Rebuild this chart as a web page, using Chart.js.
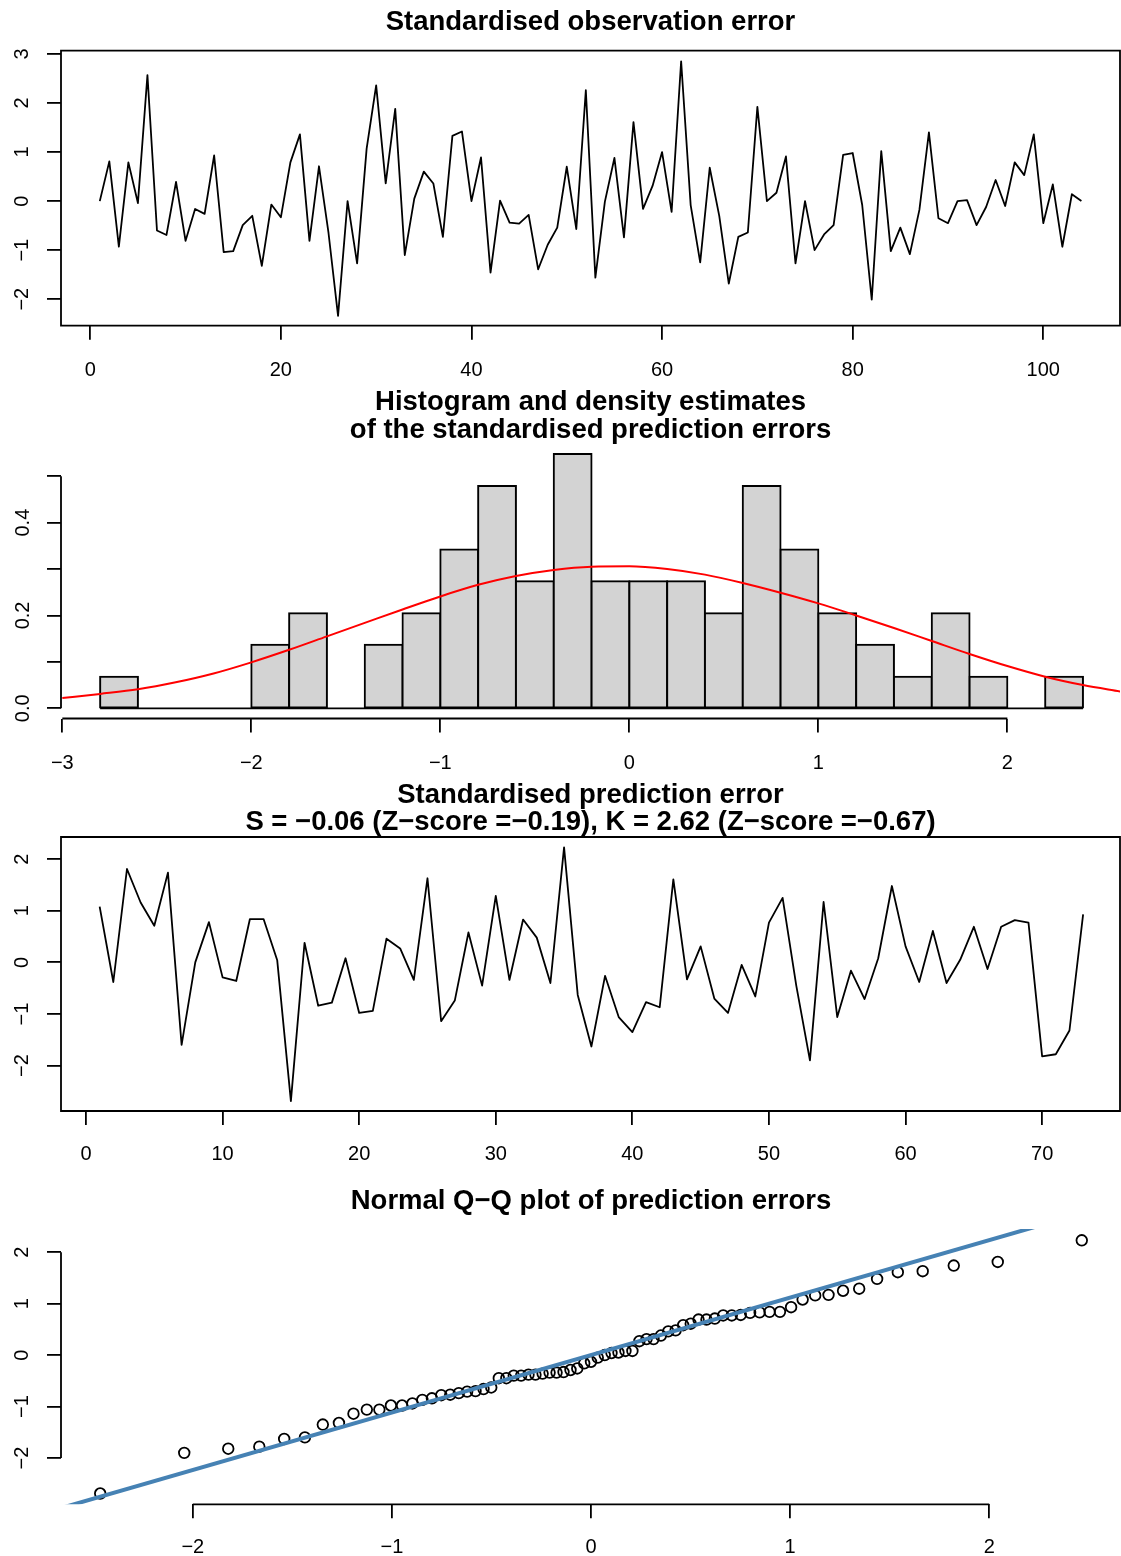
<!DOCTYPE html>
<html lang="en">
<head>
<meta charset="utf-8">
<title>Standardised errors</title>
<script src="https://cdn.jsdelivr.net/npm/chart.js@4.4.0/dist/chart.umd.min.js"></script>
<style>
    html, body { margin: 0; padding: 0; background: #fff; }
    #page { position: relative; width: 1121px; height: 1556px; overflow: hidden; }
    #page canvas { position: absolute; left: 0; }
</style>
</head>
<body>
<div id="page">
    <canvas id="obsChart" width="1121" height="390" style="top:0px"></canvas>
    <canvas id="histChart" width="1121" height="394" style="top:388px"></canvas>
    <canvas id="predChart" width="1121" height="395" style="top:780px"></canvas>
    <canvas id="qqChart" width="1121" height="381" style="top:1175px"></canvas>
</div>
<script>
// --- Data ---

// 1. Standardised observation error (t = 1..104)
const obsErr = [
    0.00, 0.81, -0.93, 0.79, -0.04, 2.57, -0.60, -0.69, 0.39, -0.81,
    -0.16, -0.26, 0.93, -1.04, -1.02, -0.49, -0.30, -1.32, -0.07, -0.33,
    0.79, 1.36, -0.81, 0.71, -0.65, -2.34, 0.00, -1.27, 1.07, 2.36,
    0.36, 1.88, -1.10, 0.05, 0.60, 0.36, -0.73, 1.33, 1.42, 0.00,
    0.89, -1.46, 0.01, -0.44, -0.46, -0.28, -1.39, -0.89, -0.54, 0.70,
    -0.57, 2.26, -1.56, -0.01, 0.88, -0.74, 1.61, -0.16, 0.31, 1.00,
    -0.22, 2.85, -0.08, -1.25, 0.68, -0.30, -1.68, -0.73, -0.64, 1.92,
    0.00, 0.17, 0.91, -1.27, 0.00, -1.00, -0.68, -0.49, 0.94, 0.98,
    -0.08, -2.01, 1.02, -1.02, -0.54, -1.08, -0.18, 1.40, -0.35, -0.45,
    0.00, 0.02, -0.49, -0.12, 0.43, -0.10, 0.79, 0.53, 1.36, -0.45,
    0.34, -0.93, 0.14, 0.00
];

// 2. Histogram of the prediction errors (density scale) + density curve
const histBreaks = [-2.8, -2.6, -2.4, -2.2, -2.0, -1.8, -1.6, -1.4, -1.2, -1.0, -0.8, -0.6, -0.4, -0.2,
    0.0, 0.2, 0.4, 0.6, 0.8, 1.0, 1.2, 1.4, 1.6, 1.8, 2.0, 2.2, 2.4];
const histDensity = [0.068, 0, 0, 0, 0.137, 0.205, 0, 0.137, 0.205, 0.342, 0.479, 0.274, 0.548,
    0.274, 0.274, 0.274, 0.205, 0.479, 0.342, 0.205, 0.137, 0.068, 0.205, 0.068, 0, 0.068];
const densX = [-3.0, -2.8, -2.6, -2.4, -2.2, -2.0, -1.8, -1.6, -1.4, -1.2, -1.0, -0.8, -0.6, -0.4, -0.2,
    0.0, 0.2, 0.4, 0.6, 0.8, 1.0, 1.2, 1.4, 1.6, 1.8, 2.0, 2.2, 2.4, 2.6];
const densY = [0.022, 0.031, 0.041, 0.056, 0.075, 0.099, 0.126, 0.155, 0.184, 0.213, 0.241, 0.266, 0.285, 0.298, 0.305,
    0.306, 0.300, 0.288, 0.270, 0.249, 0.226, 0.200, 0.173, 0.145, 0.117, 0.091, 0.068, 0.050, 0.036];

// 3. Standardised prediction error (t = 1..73)
const predErr = [
    1.08, -0.38, 1.81, 1.16, 0.71, 1.74, -1.60, 0.00, 0.78, -0.29,
    -0.36, 0.84, 0.84, 0.04, -2.69, 0.38, -0.84, -0.78, 0.08, -0.98,
    -0.94, 0.46, 0.27, -0.34, 1.63, -1.14, -0.74, 0.58, -0.45, 1.29,
    -0.34, 0.83, 0.48, -0.40, 2.23, -0.63, -1.63, -0.26, -1.06, -1.35,
    -0.77, -0.87, 1.61, -0.33, 0.31, -0.70, -0.98, -0.05, -0.66, 0.77,
    1.25, -0.45, -1.90, 1.17, -1.06, -0.16, -0.71, 0.08, 1.48, 0.31,
    -0.38, 0.61, -0.40, 0.05, 0.69, -0.13, 0.69, 0.82, 0.77, -1.82,
    -1.78, -1.32, 0.93
];

// 4. Normal Q-Q plot: theoretical quantiles (x positions) and reference line
const qqTheory = [
    -2.465, -2.043, -1.822, -1.666, -1.541, -1.437, -1.347, -1.266, -1.193, -1.126,
    -1.063, -1.005, -0.949, -0.897, -0.847, -0.799, -0.752, -0.707, -0.664, -0.622,
    -0.580, -0.540, -0.501, -0.463, -0.425, -0.388, -0.351, -0.314, -0.279, -0.243,
    -0.208, -0.173, -0.138, -0.103, -0.069, -0.034, 0.000, 0.034, 0.069, 0.103,
    0.138, 0.173, 0.208, 0.243, 0.279, 0.314, 0.351, 0.388, 0.425, 0.463,
    0.501, 0.540, 0.580, 0.622, 0.664, 0.707, 0.752, 0.799, 0.847, 0.897,
    0.949, 1.005, 1.063, 1.126, 1.193, 1.266, 1.347, 1.437, 1.541, 1.666,
    1.822, 2.043, 2.465
];
const qqLineX = [-3, 3];
const qqLineY = [-3.35, 3.35];

// Tick values and labels
const obsXTicks = [0, 20, 40, 60, 80, 100];
const obsXLabels = ['0', '20', '40', '60', '80', '100'];
const obsYTicks = [-2, -1, 0, 1, 2, 3];
const obsYLabels = ['\u22122', '\u22121', '0', '1', '2', '3'];
const histXTicks = [-3, -2, -1, 0, 1, 2];
const histXLabels = ['\u22123', '\u22122', '\u22121', '0', '1', '2'];
const histYTicks = [0, 0.1, 0.2, 0.3, 0.4, 0.5];
const histYLabels = ['0.0', '', '0.2', '', '0.4', ''];
const predXTicks = [0, 10, 20, 30, 40, 50, 60, 70];
const predXLabels = ['0', '10', '20', '30', '40', '50', '60', '70'];
const predYTicks = [-2, -1, 0, 1, 2];
const predYLabels = ['\u22122', '\u22121', '0', '1', '2'];
const qqXTicks = [-2, -1, 0, 1, 2];
const qqXLabels = ['\u22122', '\u22121', '0', '1', '2'];

// --- Chart.js Global Defaults ---
Chart.defaults.font.family = "'Liberation Sans', Arial, Helvetica, sans-serif";
Chart.defaults.font.size = 20;
Chart.defaults.color = '#000';

const LINE_W = 1.8;

// R-like frame: full box, or axis lines running only from first to last tick
const rFrame = {
    id: 'rFrame',
    afterDraw(chart, args, opts) {
        const { ctx, chartArea: a, scales: { x, y } } = chart;
        ctx.save();
        ctx.strokeStyle = '#000';
        ctx.lineWidth = LINE_W;
        ctx.beginPath();
        if (opts.box) {
            ctx.rect(a.left, a.top, a.right - a.left, a.bottom - a.top);
        } else {
            const xt = x.ticks, yt = y.ticks;
            ctx.moveTo(x.getPixelForValue(xt[0].value), a.bottom);
            ctx.lineTo(x.getPixelForValue(xt[xt.length - 1].value), a.bottom);
            ctx.moveTo(a.left, y.getPixelForValue(yt[0].value));
            ctx.lineTo(a.left, y.getPixelForValue(yt[yt.length - 1].value));
        }
        ctx.stroke();
        ctx.restore();
    }
};

function rAxis(cfg) {
    return {
        type: 'linear',
        min: cfg.min,
        max: cfg.max,
        offset: false,
        afterBuildTicks: s => { s.ticks = cfg.ticks.map(v => ({ value: v })); },
        afterFit: s => { if (cfg.isY) s.width = cfg.size; else s.height = cfg.size; },
        border: { display: false },
        grid: {
            drawOnChartArea: false, drawTicks: true, offset: false,
            tickLength: 14, tickWidth: LINE_W, tickColor: '#000',
            color: '#000', lineWidth: LINE_W
        },
        ticks: {
            autoSkip: false,
            padding: cfg.pad,
            minRotation: cfg.isY ? 90 : 0,
            maxRotation: cfg.isY ? 90 : 0,
            crossAlign: cfg.isY ? 'center' : 'near',
            callback: (v, i) => cfg.labels[i]
        }
    };
}

function panelOptions(cfg) {
    return {
        responsive: false,
        animation: false,
        devicePixelRatio: 1,
        layout: { autoPadding: false, padding: { right: cfg.right } },
        plugins: {
            legend: { display: false },
            tooltip: { enabled: false },
            title: {
                display: true,
                fullSize: false,
                text: cfg.title,
                color: '#000',
                font: { size: 27.5, weight: 'bold', lineHeight: 1 },
                padding: { top: cfg.titleTop, bottom: cfg.titleBottom }
            },
            rFrame: { box: cfg.box }
        },
        scales: { x: cfg.x, y: cfg.y }
    };
}

// 1. Standardised observation error
new Chart(document.getElementById('obsChart'), {
    type: 'scatter',
    data: {
        datasets: [{
            data: obsErr.map((v, i) => ({ x: i + 1, y: v })),
            showLine: true, borderColor: '#000', borderWidth: LINE_W,
            borderJoinStyle: 'round', pointRadius: 0, tension: 0
        }]
    },
    options: panelOptions({
        title: 'Standardised observation error',
        titleTop: 8.25, titleBottom: 14.95, right: 1, box: true,
        x: rAxis({ min: -3.07, max: 108.05, ticks: obsXTicks, labels: obsXLabels, size: 64.3, pad: 18.5 }),
        y: rAxis({ min: -2.54, max: 3.066, ticks: obsYTicks, labels: obsYLabels, size: 61, pad: 13, isY: true })
    }),
    plugins: [rFrame]
});

// 2. Histogram and density estimate
const histBars = histDensity.map((d, i) => ({ x: (histBreaks[i] + histBreaks[i + 1]) / 2, y: d }));
new Chart(document.getElementById('histChart'), {
    type: 'bar',
    data: {
        datasets: [
            {
                type: 'line',
                data: densX.map((x, i) => ({ x: x, y: densY[i] })),
                borderColor: '#FF0000', borderWidth: 2, pointRadius: 0,
                cubicInterpolationMode: 'monotone'
            },
            {
                type: 'line',
                data: [{ x: histBreaks[0], y: 0 }, { x: histBreaks[histBreaks.length - 1], y: 0 }],
                borderColor: '#000', borderWidth: LINE_W, pointRadius: 0
            },
            {
                data: histBars,
                backgroundColor: '#D3D3D3', borderColor: '#000', borderWidth: 2,
                borderSkipped: false, inflateAmount: 1,
                barPercentage: 1, categoryPercentage: 1, grouped: false
            }
        ]
    },
    options: panelOptions({
        title: ['Histogram and density estimates', 'of the standardised prediction errors'],
        titleTop: 0.75, titleBottom: 0, right: 1, box: false,
        x: rAxis({ min: -3.007, max: 2.596, ticks: histXTicks, labels: histXLabels, size: 63.5, pad: 18.5 }),
        y: rAxis({ min: -0.022, max: 0.570, ticks: histYTicks, labels: histYLabels, size: 61, pad: 9.6, isY: true })
    }),
    plugins: [rFrame]
});

// 3. Standardised prediction error
new Chart(document.getElementById('predChart'), {
    type: 'scatter',
    data: {
        datasets: [{
            data: predErr.map((v, i) => ({ x: i + 1, y: v })),
            showLine: true, borderColor: '#000', borderWidth: LINE_W,
            borderJoinStyle: 'round', pointRadius: 0, tension: 0
        }]
    },
    options: panelOptions({
        title: ['Standardised prediction error',
            'S = \u22120.06 (Z\u2212score =\u22120.19), K = 2.62 (Z\u2212score =\u22120.67)'],
        titleTop: 1.25, titleBottom: 0.75, right: 1, box: true,
        x: rAxis({ min: -1.83, max: 75.7, ticks: predXTicks, labels: predXLabels, size: 64, pad: 17 }),
        y: rAxis({ min: -2.88, max: 2.43, ticks: predYTicks, labels: predYLabels, size: 61, pad: 13, isY: true })
    }),
    plugins: [rFrame]
});

// 4. Normal Q-Q plot of the prediction errors
const qqSample = predErr.slice().sort((a, b) => a - b);
new Chart(document.getElementById('qqChart'), {
    type: 'scatter',
    data: {
        datasets: [
            {
                data: qqLineX.map((x, i) => ({ x: x, y: qqLineY[i] })),
                showLine: true, borderColor: '#4682B4', borderWidth: 4, pointRadius: 0
            },
            {
                data: qqTheory.map((q, i) => ({ x: q, y: qqSample[i] })),
                showLine: false, pointStyle: 'circle', pointRadius: 5.3,
                borderColor: '#000', borderWidth: LINE_W, backgroundColor: 'rgba(0,0,0,0)'
            }
        ]
    },
    options: panelOptions({
        title: 'Normal Q\u2212Q plot of prediction errors',
        titleTop: 12.75, titleBottom: 13.75, right: 0, box: false,
        x: rAxis({ min: -2.662, max: 2.662, ticks: qqXTicks, labels: qqXLabels, size: 51.7, pad: 17 }),
        y: rAxis({ min: -2.90, max: 2.45, ticks: predYTicks, labels: predYLabels, size: 61, pad: 13, isY: true })
    }),
    plugins: [rFrame]
});
</script>
</body>
</html>
